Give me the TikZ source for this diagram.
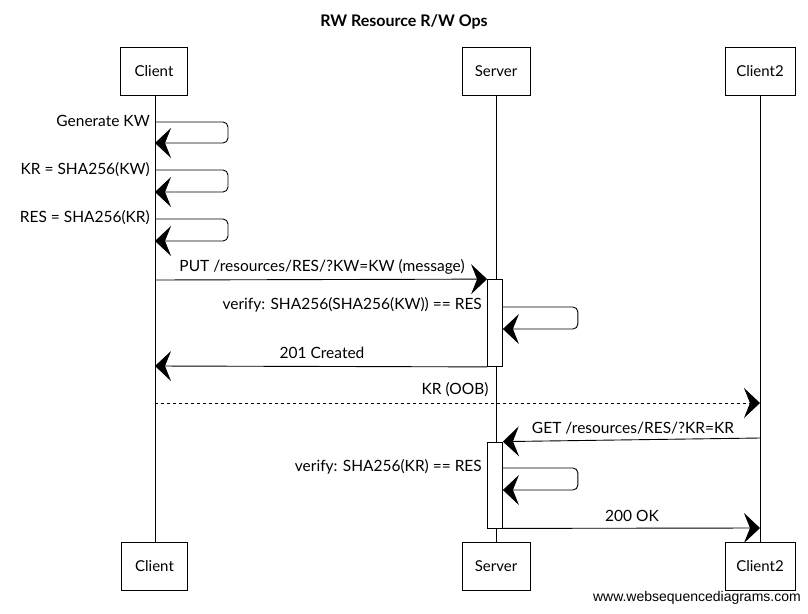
\documentclass[tikz,border=0pt]{standalone}
\usepackage{fontspec}
\setmainfont{Lato}
\newfontfamily\footfont{Liberation Sans}
\usetikzlibrary{arrows.meta}
\begin{document}
\begin{tikzpicture}[x=1pt,y=-1pt,
  actor/.style={draw,line width=0.8pt,fill=white,minimum height=48pt,font=\fontsize{15}{17}\selectfont,inner sep=2pt},
  life/.style={line width=0.6pt},
  actbox/.style={draw,line width=0.8pt,fill=white,minimum width=15pt,inner sep=0pt},
  msg/.style={line width=0.9pt,-{Stealth[length=16pt,width=30pt,inset=6pt]}},
  loopmsg/.style={msg,rounded corners=5pt},
  lbl/.style={font=\fontsize{15.5}{18}\selectfont,inner sep=1pt}]
\useasboundingbox (0,0) rectangle (808,613);
\node[font=\bfseries\fontsize{16}{18}\selectfont] (title) at (404,22) {RW Resource R/W Ops};
% lifelines
\draw[life] (155,96) -- (155,542);
\draw[life] (496,96) -- (496,542);
\draw[life] (760,96) -- (760,542);
% actors
\node[actor,minimum width=67pt] (ct) at (154,71.5) {Client};
\node[actor,minimum width=68pt] (st) at (496,71.5) {Server};
\node[actor,minimum width=70pt] (c2t) at (760,71.5) {Client2};
\node[actor,minimum width=66pt] (cb) at (154.5,566) {Client};
\node[actor,minimum width=68pt] (sb) at (496,566) {Server};
\node[actor,minimum width=70pt] (c2b) at (760,566) {Client2};
% activations
\node[actbox,minimum height=87pt] (a1) at (495,323) {};
\node[actbox,minimum height=86pt] (a2) at (495,485) {};
% coordinates
\coordinate (g1s) at (155,122); \coordinate (g1e) at (155,143);
\coordinate (g2s) at (155,170); \coordinate (g2e) at (155,192);
\coordinate (g3s) at (155,219); \coordinate (g3e) at (155,241);
\coordinate (putS) at (155,280); \coordinate (putE) at (a1.north west);
\coordinate (v1s) at (a1.east |- 0,307); \coordinate (v1e) at (a1.east |- 0,329);
\coordinate (crS) at (a1.south west); \coordinate (crE) at (155,366);
\coordinate (oobS) at (155,403); \coordinate (oobE) at (760,403);
\coordinate (getS) at (760,438); \coordinate (getE) at (a2.north east);
\coordinate (v2s) at (a2.east |- 0,468); \coordinate (v2e) at (a2.east |- 0,490);
\coordinate (okS) at (a2.south east); \coordinate (okE) at (760,528);
% self messages on Client
\draw[loopmsg] (g1s) -- ++(73,0) -- ++(0,21) -- (g1e);
\draw[loopmsg] (g2s) -- ++(73,0) -- ++(0,22) -- (g2e);
\draw[loopmsg] (g3s) -- ++(73,0) -- ++(0,22) -- (g3e);
\node[lbl,anchor=east] (l1) at (151,121) {Generate KW};
\node[lbl,anchor=east] (l2) at (151,170) {KR = SHA256(KW)};
\node[lbl,anchor=east] (l3) at (151,218) {RES = SHA256(KR)};
% PUT
\draw[msg] (putS) -- (putE);
\node[lbl] (lput) at (322,267) {PUT /resources/RES/?KW=KW (message)};
% verify 1
\draw[loopmsg] (v1s) -- ++(75,0) -- ++(0,22) -- (v1e);
\node[lbl,anchor=east] (lv1) at (483,305) {verify: SHA256(SHA256(KW)) == RES};
% 201
\draw[msg] (crS) -- (crE);
\node[lbl] (lcr) at (322,353) {201 Created};
% OOB
\draw[msg,dashed] (oobS) -- (oobE);
\node[lbl] (loob) at (455,390) {KR (OOB)};
% GET
\draw[msg] (getS) -- (getE);
\node[lbl] (lget) at (633,428) {GET /resources/RES/?KR=KR};
% verify 2
\draw[loopmsg] (v2s) -- ++(75,0) -- ++(0,22) -- (v2e);
\node[lbl,anchor=east] (lv2) at (483,467) {verify: SHA256(KR) == RES};
% 200 OK
\draw[msg] (okS) -- (okE);
\node[lbl] (lok) at (632,516) {200 OK};
% footer
\node[font=\footfont\fontsize{14}{16}\selectfont,anchor=east,inner sep=0pt] (foot) at (801,598) {www.websequencediagrams.com};
\end{tikzpicture}
\end{document}
